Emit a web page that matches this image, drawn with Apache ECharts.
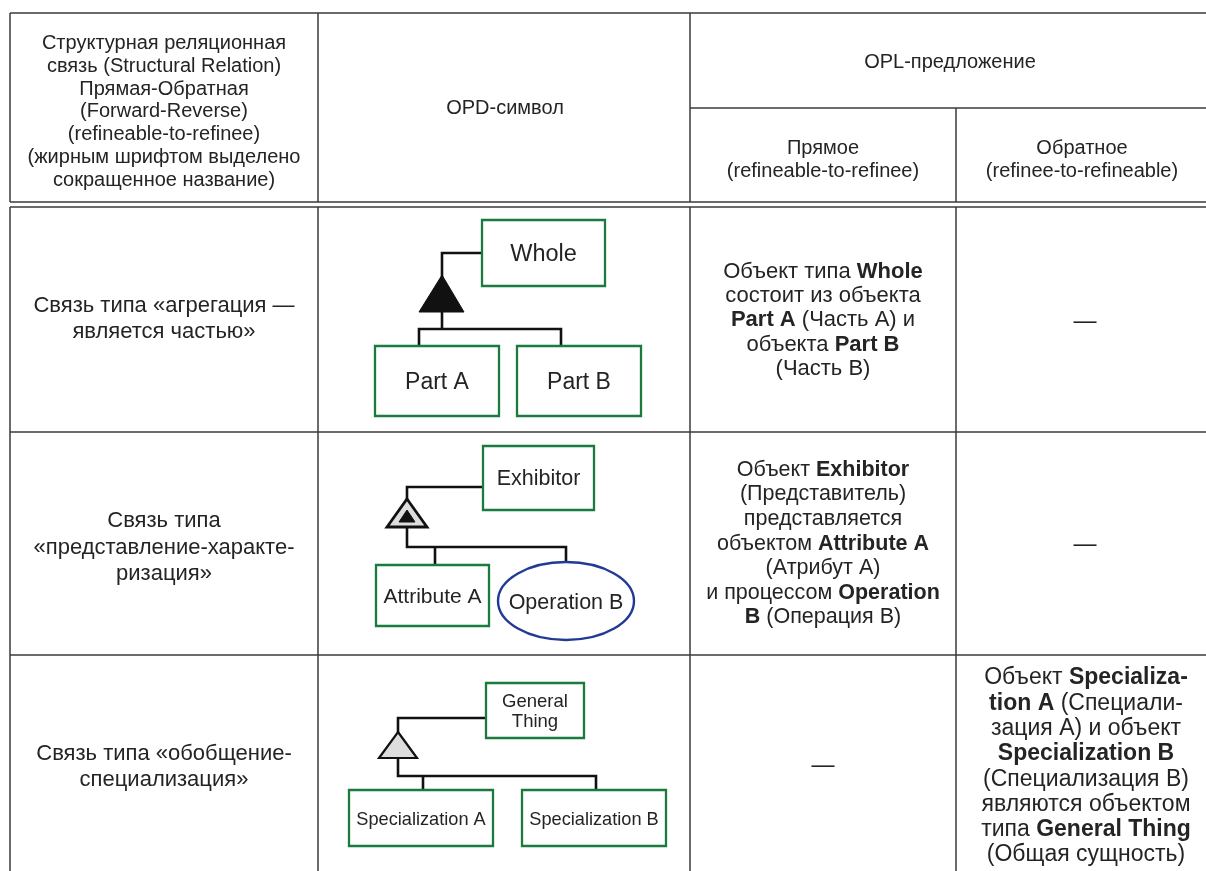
<!DOCTYPE html>
<html>
<head>
<meta charset="utf-8">
<script src="https://cdn.jsdelivr.net/npm/echarts@6/dist/echarts.min.js"></script>
<style>html,body{margin:0;padding:0;background:#fff}#c{width:1206px;height:871px}</style>
</head>
<body>
<div id="c"></div>
<script>
// ---- content ----
const headerRelation = ['Структурная реляционная','связь (Structural Relation)','Прямая-Обратная','(Forward-Reverse)','(refineable-to-refinee)','(жирным шрифтом выделено','сокращенное название)'];
const headerSymbol = ['OPD-символ'];
const headerOPL = ['OPL-предложение'];
const headerForward = ['Прямое','(refineable-to-refinee)'];
const headerReverse = ['Обратное','(refinee-to-refineable)'];

const relationNames = [
  ['Связь типа «агрегация —','является частью»'],
  ['Связь типа','«представление-характе-','ризация»'],
  ['Связь типа «обобщение-','специализация»']
];
const forwardSentences = [
  ['Объект типа {b|Whole}','состоит из объекта','{b|Part A} (Часть А) и','объекта {b|Part B}','(Часть В)'],
  ['Объект {b|Exhibitor}','(Представитель)','представляется','объектом {b|Attribute A}','(Атрибут А)','и процессом {b|Operation}','{b|B} (Операция В)'],
  ['—']
];
const reverseSentences = [
  ['—'],
  ['—'],
  ['Объект {b|Specializa-}','{b|tion A} (Специали-','зация А) и объект','{b|Specialization B}','(Специализация В)','являются объектом','типа {b|General Thing}','(Общая сущность)']
];
const diagramParents = ['Whole','Exhibitor','General\nThing'];
const diagramChildren = [['Part A','Part B'],['Attribute A','Operation B'],['Specialization A','Specialization B']];

// ---- styles ----
const FF = '"Liberation Sans", Arial, Helvetica, sans-serif';
const TXT = '#242424';
const LINE = '#3a3a3a';
const GREEN = '#1b7a3e';
const BLUE = '#213a95';

const g = [];
function hline(x1,x2,y){ g.push({type:'line',shape:{x1,y1:y,x2,y2:y},style:{stroke:LINE,lineWidth:1.5}}); }
function vline(x,y1,y2){ g.push({type:'line',shape:{x1:x,y1,x2:x,y2},style:{stroke:LINE,lineWidth:1.5}}); }
function textLines(lines,cx,y0,lh,size){
  lines.forEach((t,i)=>{
    g.push({type:'text',x:cx,y:y0+i*lh,style:{
      text:t, fill:TXT, font:size+'px '+FF, align:'center', verticalAlign:'middle',
      rich:{b:{font:'bold '+size+'px '+FF, fill:TXT}}
    }});
  });
}
function box(x,y,w,h,label,size){
  g.push({type:'rect',shape:{x,y,width:w,height:h},style:{fill:'#fff',stroke:GREEN,lineWidth:2.3}});
  g.push({type:'text',x:x+w/2,y:y+h/2+1.5,style:{text:label,fill:TXT,font:size+'px '+FF,align:'center',verticalAlign:'middle',lineHeight:size*1.1}});
}
function poly(points,lw){ g.push({type:'polyline',shape:{points},style:{stroke:'#111',lineWidth:lw||2.6,fill:null}}); }

// ---- table grid ----
hline(10,1206,13);
hline(690,1206,108);
hline(10,1206,202);
hline(10,1206,207);
hline(10,1206,432);
hline(10,1206,655);
[10,318,690].forEach(x=>{ vline(x,13,202); vline(x,207,871); });
vline(956,108,202); vline(956,207,871);

// ---- header ----
textLines(headerRelation,164,43.5,22.75,20);
textLines(headerSymbol,505,108,22,20);
textLines(headerOPL,950,62,22,20);
textLines(headerForward,823,148,23.5,20);
textLines(headerReverse,1082,148,23.5,20);

// ---- column 1 ----
textLines(relationNames[0],164,306,26,22);
textLines(relationNames[1],164,521,26.5,22);
textLines(relationNames[2],164,754,25.5,22);

// ---- column 3 / 4 ----
textLines(forwardSentences[0],823,272,24.2,22);
textLines(forwardSentences[1],823,470,24.55,21.5);
textLines(forwardSentences[2],823,766,25,23);
textLines(reverseSentences[0],1085,322,25,23);
textLines(reverseSentences[1],1085,545,25,23);
textLines(reverseSentences[2],1086,678,25.3,23);

// ---- diagram 1: aggregation ----
poly([[482,253],[442,253],[442,280]]);
g.push({type:'polygon',shape:{points:[[442,275],[464,312],[419,312]]},style:{fill:'#111',stroke:'#111',lineWidth:1}});
poly([[442,312],[442,329]]);
poly([[419,346],[419,329],[561,329],[561,346]]);
box(375,346,124,70,diagramChildren[0][0],23);
box(517,346,124,70,diagramChildren[0][1],23);
box(482,220,123,66,diagramParents[0],23.5);

// ---- diagram 2: exhibition ----
poly([[483,487],[407,487],[407,500]]);
g.push({type:'polygon',shape:{points:[[407,499],[427,527],[387,527]]},style:{fill:'#ddd',stroke:'#111',lineWidth:2.8}});
g.push({type:'polygon',shape:{points:[[407,510],[415,522],[399,522]]},style:{fill:'#111',stroke:'#111',lineWidth:1}});
poly([[407,528],[407,547],[566,547],[566,562]]);
poly([[435,547],[435,565]]);
box(376,565,113,61,diagramChildren[1][0],21);
g.push({type:'ellipse',shape:{cx:566,cy:601,rx:68,ry:39},style:{fill:'#fff',stroke:BLUE,lineWidth:2.4}});
g.push({type:'text',x:566,y:603,style:{text:diagramChildren[1][1],fill:TXT,font:'21.5px '+FF,align:'center',verticalAlign:'middle'}});
box(483,446,111,64,diagramParents[1],21.5);

// ---- diagram 3: generalization ----
poly([[486,718],[398,718],[398,734]]);
g.push({type:'polygon',shape:{points:[[398,732],[417,758],[379,758]]},style:{fill:'#ddd',stroke:'#111',lineWidth:2.2}});
poly([[398,759],[398,776],[596,776],[596,790]]);
poly([[423,776],[423,790]]);
box(349,790,144,56,diagramChildren[2][0],18.2);
box(522,790,144,56,diagramChildren[2][1],18.2);
box(486,683,98,55,diagramParents[2],18.5);

const chart = echarts.init(document.getElementById('c'));
chart.setOption({backgroundColor:'#fff', animation:false, graphic:{elements:g}});
</script>
</body>
</html>
